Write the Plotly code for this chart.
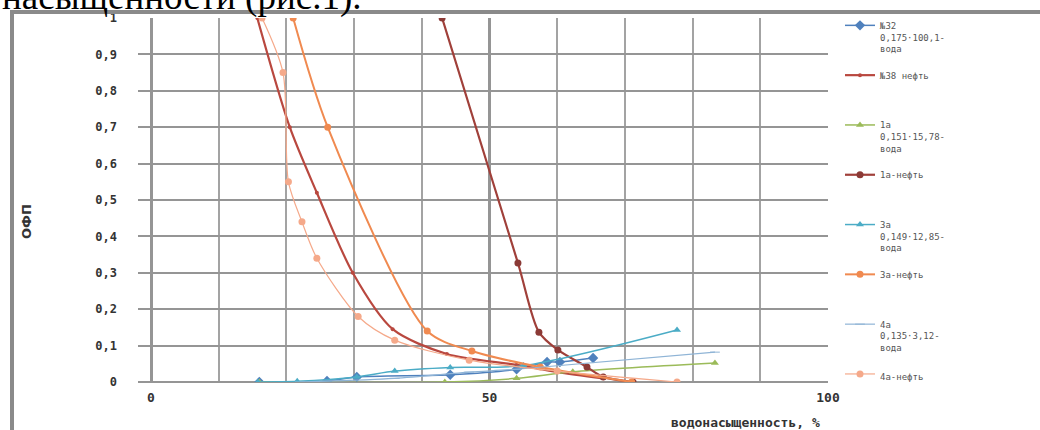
import plotly.graph_objects as go

# ---- data ----
s32_water_x = [16, 26, 30.4, 44.2, 54, 58.5, 60.4, 65.3]
s32_water_y = [0, 0.003, 0.014, 0.02, 0.035, 0.055, 0.055, 0.066]

s32_oil_x = [15.7, 20.5, 24.5, 29.8, 35.7, 43.7, 54, 60, 66.8]
s32_oil_y = [1.0, 0.70, 0.52, 0.30, 0.145, 0.077, 0.047, 0.027, 0.01]

s1a_water_x = [16, 43.4, 54, 62.3, 83.3]
s1a_water_y = [0, 0, 0.01, 0.028, 0.052]

s1a_oil_x = [43, 54.2, 57.3, 60.1, 64.4, 66.8, 71.2]
s1a_oil_y = [1.0, 0.327, 0.137, 0.088, 0.041, 0.014, 0]

s3a_water_x = [15.8, 21.6, 30.4, 36, 44.2, 55, 77.7]
s3a_water_y = [0, 0.002, 0.014, 0.03, 0.04, 0.045, 0.143]

s3a_oil_x = [21, 26.1, 40.8, 47.4, 57.5, 71]
s3a_oil_y = [1.0, 0.70, 0.14, 0.085, 0.041, 0]

s4a_water_x = [22, 36, 47, 54, 83.3]
s4a_water_y = [0, 0.01, 0.027, 0.035, 0.082]

s4a_oil_x = [16.4, 19.5, 20.3, 22.3, 24.5, 30.6, 36, 47, 60, 77.7]
s4a_oil_y = [1.0, 0.85, 0.55, 0.44, 0.34, 0.18, 0.115, 0.06, 0.03, 0]

names = [
    "№32<br>0,175·100,1-<br>вода<br> ",
    "№38 нефть<br> <br> <br> ",
    "1а<br>0,151·15,78-<br>вода<br> ",
    "1а-нефть<br> <br> <br> ",
    "3а<br>0,149·12,85-<br>вода<br> ",
    "3а-нефть<br> <br> <br> ",
    "4а<br>0,135·3,12-<br>вода<br> ",
    "4а-нефть",
]

x_ticks = [0, 50, 100]
x_tick_labels = ["<b>0</b>", "<b>50</b>", "<b>100</b>"]
y_ticks = [0, 0.1, 0.2, 0.3, 0.4, 0.5, 0.6, 0.7, 0.8, 0.9, 1]
y_tick_labels = ["<b>0</b>", "<b>0,1</b>", "<b>0,2</b>", "<b>0,3</b>", "<b>0,4</b>", "<b>0,5</b>",
                 "<b>0,6</b>", "<b>0,7</b>", "<b>0,8</b>", "<b>0,9</b>", "<b>1</b>"]

fig = go.Figure()

def add(xs, ys, name, color, symbol, size, width, mcolor=None):
    fig.add_trace(go.Scatter(
        x=xs, y=ys, name=name, mode="lines+markers",
        line=dict(color=color, width=width, shape="spline", smoothing=0.8),
        marker=dict(symbol=symbol, size=size, color=mcolor or color),
    ))

add(s32_water_x, s32_water_y, names[0], "#4f81bd", "diamond", 8, 1.5)
add(s32_oil_x, s32_oil_y, names[1], "#b9483f", "circle", 4, 2.2)
add(s1a_water_x, s1a_water_y, names[2], "#9bbb59", "triangle-up", 7, 1.5)
add(s1a_oil_x, s1a_oil_y, names[3], "#a0403a", "circle", 7, 2.2, "#8b3a36")
add(s3a_water_x, s3a_water_y, names[4], "#4bacc6", "triangle-up", 7, 1.5)
add(s3a_oil_x, s3a_oil_y, names[5], "#f08a50", "circle", 7, 2)
add(s4a_water_x, s4a_water_y, names[6], "#8fb4d6", "line-ew-open", 7, 1.2)
add(s4a_oil_x, s4a_oil_y, names[7], "#f5a98a", "circle", 7, 1.2)

L, R, T, B = 138, 828, 18, 382
W, H = 1040, 430
pw, ph = R - L, B - T

def px(xp):
    return (xp - L) / pw

def py(yp):
    return (B - yp) / ph

fig.update_layout(
    width=W, height=H,
    margin=dict(l=L, r=W - R, t=T, b=H - B, pad=0),
    paper_bgcolor="white", plot_bgcolor="white",
    showlegend=True,
    legend=dict(
        x=px(840), y=py(13), xanchor="left", yanchor="top",
        font=dict(family="DejaVu Sans Mono", size=9, color="#555555"),
        valign="top", itemwidth=30, tracegroupgap=0,
        bgcolor="rgba(0,0,0,0)",
    ),
    xaxis=dict(
        range=[-1.92, 100], tickvals=x_ticks, ticktext=x_tick_labels,
        showgrid=True, gridcolor="#959595", gridwidth=3,
        minor=dict(dtick=10, tick0=0, showgrid=True, gridcolor="#a3a3a3", gridwidth=2),
        zeroline=False, showline=False, ticks="",
        tickfont=dict(family="DejaVu Sans Mono", size=13, color="#333333"),
        ticklabelstandoff=6,
    ),
    yaxis=dict(
        range=[0, 1], tickvals=y_ticks, ticktext=y_tick_labels,
        showgrid=True, gridcolor="#959595", gridwidth=2,
        zeroline=True, zerolinecolor="#959595", zerolinewidth=2,
        showline=False, ticks="",
        tickfont=dict(family="DejaVu Sans Mono", size=12, color="#333333"),
        ticklabelstandoff=20,
    ),
    shapes=[
        dict(type="line", xref="paper", yref="paper", x0=px(12), x1=px(12), y0=py(11), y1=py(430),
             line=dict(color="#8a8a8a", width=4)),
        dict(type="line", xref="paper", yref="paper", x0=px(10), x1=px(1040), y0=py(12), y1=py(12),
             line=dict(color="#8a8a8a", width=4)),
    ],
    annotations=[
        dict(text="<b>водонасыщенность, %</b>", xref="paper", yref="paper", x=px(822), y=py(422),
             xanchor="right", yanchor="middle", showarrow=False,
             font=dict(family="DejaVu Sans Mono", size=13, color="#333333")),
        dict(text="<b>ОФП</b>", xref="paper", yref="paper", x=px(26), y=py(222),
             xanchor="center", yanchor="middle", showarrow=False, textangle=-90,
             font=dict(family="DejaVu Sans", size=13, color="#333333")),
        dict(text="насыщенности (рис.1).", xref="paper", yref="paper", x=px(0), y=py(20),
             xanchor="left", yanchor="bottom", showarrow=False,
             font=dict(family="Liberation Serif", size=37, color="#000000")),
    ],
)

try:
    fig.update_layout(legend_maxheight=430)
except Exception:
    pass

fig.write_html("out.html")
